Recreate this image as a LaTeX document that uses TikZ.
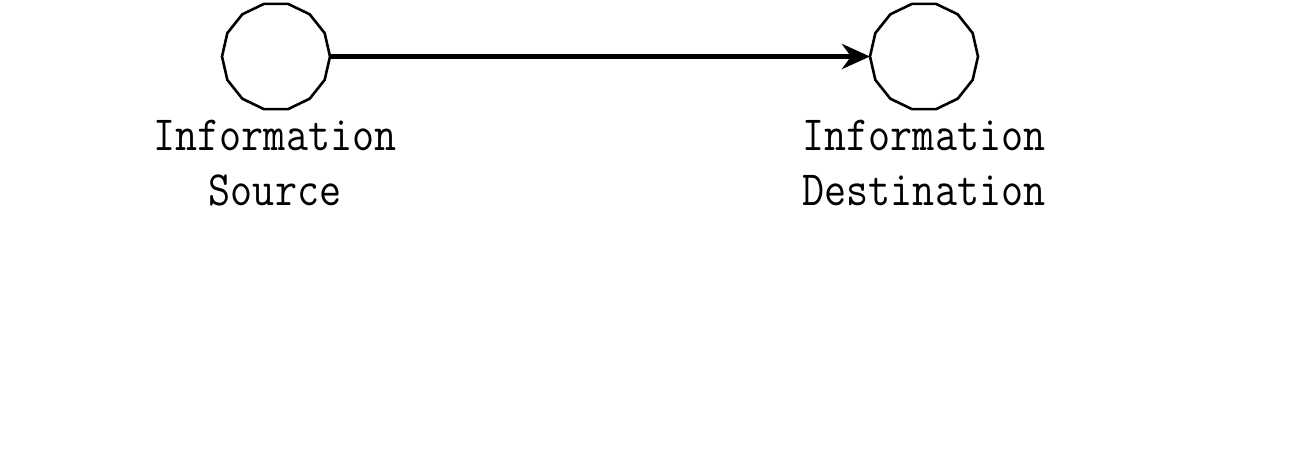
\documentclass[tikz,border=0pt]{standalone}
\usepackage{fontspec}
\usetikzlibrary{shapes.geometric,arrows.meta}
\newcommand{\tallword}[1]{\scalebox{1}[1.15]{#1}}
\begin{document}
\begin{tikzpicture}[x=1pt,y=-1pt,
  station/.style={draw,regular polygon,regular polygon sides=14,minimum size=108pt,inner sep=0pt,outer sep=0pt,line width=2.6pt},
  lbl/.style={align=center,font=\ttfamily\fontsize{42.8}{55}\selectfont,inner sep=0pt,anchor=base},
  flow/.style={line width=5pt,-{Stealth[length=28pt,width=25pt,inset=9pt]}}]
\useasboundingbox (0,0) rectangle (1296,471);
\node[station] (src) at (276,56.5) {};
\node[station] (dst) at (924,56.5) {};
\draw[flow] (src) -- (dst);
\node[lbl] (srcl) at (275,205) {\tallword{Information}\\\tallword{Source}};
\node[lbl] (dstl) at (924,205) {\tallword{Information}\\\tallword{Destination}};
\end{tikzpicture}
\end{document}
